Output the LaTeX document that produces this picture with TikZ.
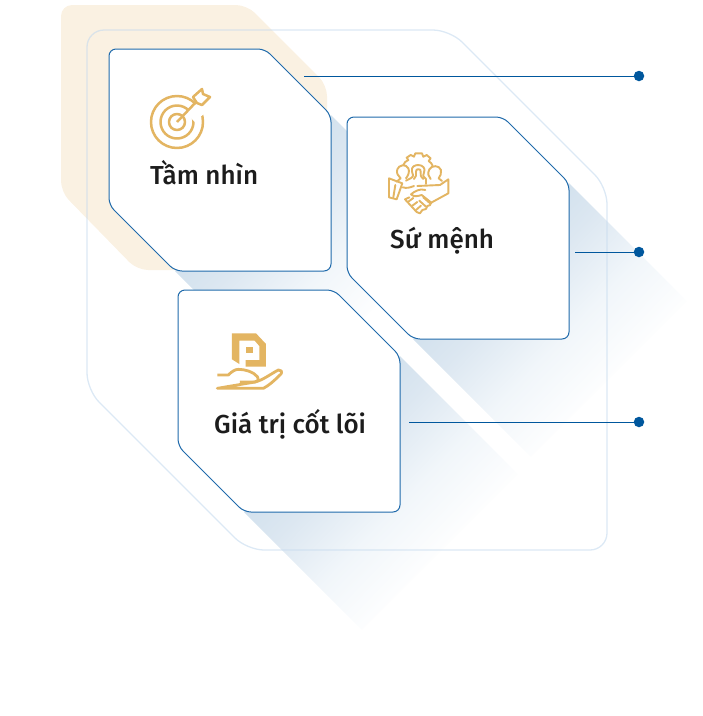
\documentclass[tikz,border=0pt]{standalone}
\usepackage{fontspec}
\setmainfont{Fira Sans}[UprightFont=* Medium]
\definecolor{gold}{HTML}{E3B562}
\definecolor{beige}{HTML}{FAF1E2}
\definecolor{shadowblue}{HTML}{C6DAE9}
\definecolor{shadowmid}{HTML}{DCE7F1}
\definecolor{shadowpale}{HTML}{F1F6FA}
\definecolor{outlineblue}{HTML}{C5DAEE}
\definecolor{cardblue}{HTML}{1F6AAB}
\definecolor{linkblue}{HTML}{00579D}
\definecolor{ink}{HTML}{1C1C1C}
\pgfdeclarehorizontalshading{fadeout}{100bp}{color(0bp)=(shadowblue); color(25bp)=(shadowblue); color(42bp)=(shadowmid); color(54bp)=(shadowpale); color(67bp)=(white); color(100bp)=(white)}
\tikzset{
  cardbox/.style={draw=cardblue,line width=1pt,fill=white,rounded corners=7pt},
  glow/.style={shading=fadeout,shading angle=-44},
  labeltext/.style={text=ink,font=\fontsize{26}{28}\selectfont,anchor=base west,inner sep=0pt},
  ico/.style={draw=gold,line width=2.5pt,line join=round},
  icothin/.style={draw=gold,line width=1.9pt,line join=round,line cap=round},
  linkline/.style={draw=linkblue,line width=0.9pt},
  dotmark/.style={circle,fill=linkblue,minimum size=10.5pt,inner sep=0pt},
}
\begin{document}
\begin{tikzpicture}[x=1pt,y=-1pt]
\useasboundingbox (0,0) rectangle (703,716);
% beige backdrop
\fill[beige,rounded corners=11pt] (61,5) -- (247,5) -- (327,85) -- (327,270) -- (137,270) -- (61,192) -- cycle;
% gradient shadows
\shade[glow] (331,115) -- (175,271) -- (293,389) -- (449,233) -- cycle;
\shade[glow] (569,183) -- (413,339) -- (531,457) -- (687,301) -- cycle;
\shade[glow] (400,356) -- (244,512) -- (362,630) -- (518,474) -- cycle;
% outer outline
\draw[outlineblue,line width=1.3pt,opacity=.6,rounded corners=17pt] (87,30) -- (450,30) -- (607,187) -- (607,550) -- (247,550) -- (87,390) -- cycle;
% cards
\path[cardbox] (109,49) -- (265,49) -- (331,115) -- (331,271) -- (175,271) -- (109,205) -- cycle;
\path[cardbox] (347,117) -- (503,117) -- (569,183) -- (569,339) -- (413,339) -- (347,273) -- cycle;
\path[cardbox] (178,290) -- (334,290) -- (400,356) -- (400,512) -- (244,512) -- (178,446) -- cycle;
% labels
\node[labeltext] (vision) at (150,184.5) {Tầm nhìn};
\node[labeltext] (mission) at (390,248) {Sứ mệnh};
\node[labeltext] (values) at (214,433) {Giá trị cốt lõi};
% connectors
\coordinate (s1) at (304,76);
\coordinate (s2) at (575,252);
\coordinate (s3) at (409,422);
\node[dotmark] (d1) at (639,76) {};
\node[dotmark] (d2) at (639,252) {};
\node[dotmark] (d3) at (639,422) {};
\draw[linkline] (s1) -- (d1);
\draw[linkline] (s2) -- (d2);
\draw[linkline] (s3) -- (d3);
% target icon
\begin{scope}
\draw[ico] (177,122) circle (26);
\draw[ico] (177,122) circle (16.5);
\draw[ico] (177,122) circle (8);
\fill[white] (186,113) -- (205,96) -- (208,110) -- (195,122) -- cycle;
\draw[ico] (177,122) -- (197,101);
\draw[ico,fill=white] (193,97) -- (202,89) -- (203,94) -- (210,97) -- (202,105) -- (197,103) -- cycle;
\end{scope}
% handshake icon
\begin{scope}[shift={(340,110)},scale=0.3333]
% gear rim
\draw[icothin] (190,165) .. controls (192,158) and (198,153) .. (205,150) -- (200,143) -- (212,135) -- (222,140) -- (226,130) -- (246,130) -- (250,140) -- (260,135) -- (272,145) -- (266,153) .. controls (272,157) and (276,162) .. (278,167);
% people
\draw[icothin] (170,215) -- (182,205) .. controls (175,198) and (168,190) .. (172,178) .. controls (176,165) and (198,160) .. (205,175) .. controls (210,185) and (204,198) .. (198,205);
\draw[icothin] (198,212) -- (212,205) .. controls (222,200) and (220,192) .. (216,185) .. controls (212,170) and (225,165) .. (235,165) .. controls (248,165) and (258,175) .. (252,188) .. controls (248,197) and (250,204) .. (258,207) -- (258,222);
\draw[icothin] (228,185) .. controls (226,175) and (245,175) .. (242,185) .. controls (240,193) and (242,200) .. (250,207) (222,207) .. controls (228,200) and (230,195) .. (228,185);
\draw[icothin] (272,207) .. controls (265,200) and (262,190) .. (268,178) .. controls (275,165) and (298,165) .. (303,180) .. controls (306,190) and (300,198) .. (296,205) -- (306,213);
% cuffs
\draw[icothin] (147,205) -- (187,220) -- (170,268) -- (147,262) -- cycle;
\draw[icothin] (166,225) -- (160,262);
\draw[icothin] (188,232) .. controls (200,236) and (212,232) .. (222,228) (232,228) -- (300,225) -- (325,208) -- (325,250) -- (270,280);
% hands
\draw[icothin] (256,240) .. controls (240,234) and (222,245) .. (213,253) .. controls (222,262) and (235,258) .. (245,255) -- (274,278) .. controls (274,285) and (266,288) .. (262,288) -- (258,297) -- (247,300) -- (240,310) -- (230,306) -- (195,268) -- (208,262);
\draw[icothin] (205,275) -- (220,264) (216,288) -- (232,276) (228,300) -- (243,287);
\draw[icothin] (238,272) -- (258,290) (250,262) -- (268,278);
\end{scope}
% hand icon
\begin{scope}[shift={(200,320)},scale=0.3333]
\fill[gold] (96,40) -- (168,40) -- (198,72) -- (198,140) -- (137,140) -- (137,120) -- (178,120) -- (178,78) -- (164,62) -- (118,62) -- (118,132) -- (96,118) -- cycle;
\fill[gold] (137,82) rectangle (158,100);
\draw[ico,line width=2.8pt] (52,165) -- (85,165) .. controls (95,155) and (105,148) .. (115,148) .. controls (135,148) and (160,155) .. (172,170) .. controls (178,180) and (172,186) .. (165,186) -- (120,186);
\draw[ico,line width=2.8pt] (165,186) .. controls (190,180) and (215,160) .. (235,150) .. controls (242,148) and (248,155) .. (243,162) .. controls (225,180) and (205,198) .. (190,205) -- (52,205) -- cycle;
\end{scope}
\end{tikzpicture}
\end{document}
